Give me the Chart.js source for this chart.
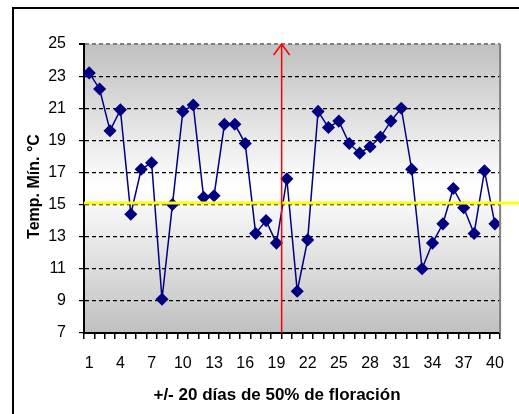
<!DOCTYPE html>
<html>
<head>
<meta charset="utf-8">
<script src="https://cdn.jsdelivr.net/npm/chart.js@4"></script>
<style>
	html, body { margin: 0; padding: 0; background: #ffffff; }
	#wrap { width: 519px; height: 414px; }
</style>
</head>
<body>
<div id="wrap"><canvas id="tempChart" width="519" height="414"></canvas></div>
<script>
// +/- 20 dias alrededor del 50% de floracion
const dias = [];
for (let i = 1; i <= 40; i++) dias.push(String(i));

const tempMin = [
	23.2, 22.2, 19.6, 20.9, 14.4, 17.2, 17.6, 9.1, 15.0, 20.8,
	21.2, 15.45, 15.55, 20.0, 20.0, 18.8, 13.2, 14.0, 12.6, 16.6,
	9.6, 12.8, 20.8, 19.8, 20.2, 18.8, 18.2, 18.6, 19.2, 20.2,
	21.0, 17.2, 11.0, 12.6, 13.8, 16.0, 14.8, 13.2, 17.1, 13.8
];

const yTicks = [7, 9, 11, 13, 15, 17, 19, 21, 23, 25];
const umbral = 15.1;        // linea amarilla
const diaFloracion = 19.5;  // flecha roja (entre dia 19 y 20)

const tituloX = "+/- 20 días de 50% de floración";
const tituloY = "Temp. Mín. °C";

const fontFam = "'Liberation Sans', Arial, sans-serif";

// fondo degradado + marco exterior
const fondoPlugin = {
	id: 'fondo',
	beforeDraw(chart) {
		const ctx = chart.ctx;
		const a = chart.chartArea;
		ctx.save();
		ctx.fillStyle = '#ffffff';
		ctx.fillRect(0, 0, chart.width, chart.height);
		const g = ctx.createLinearGradient(0, a.top, 0, a.bottom);
		g.addColorStop(0, '#c0c0c0');
		g.addColorStop(0.5, '#ffffff');
		g.addColorStop(1, '#c0c0c0');
		ctx.fillStyle = g;
		ctx.fillRect(a.left, a.top, a.right - a.left, a.bottom - a.top);
		// marco del grafico
		ctx.strokeStyle = '#000000';
		ctx.lineWidth = 2;
		ctx.strokeRect(13, 8, 700, 700);
		ctx.restore();
	}
};

// borde derecho, linea amarilla, flecha roja, titulos
const extrasPlugin = {
	id: 'extras',
	afterDatasetsDraw(chart) {
		const ctx = chart.ctx;
		const a = chart.chartArea;
		const x = chart.scales.x;
		const y = chart.scales.y;
		ctx.save();

		ctx.strokeStyle = '#808080';
		ctx.lineWidth = 2;
		ctx.beginPath();
		ctx.moveTo(a.right, a.top);
		ctx.lineTo(a.right, a.bottom);
		ctx.stroke();

		const yu = y.getPixelForValue(umbral);
		ctx.strokeStyle = '#ffff00';
		ctx.lineWidth = 3;
		ctx.beginPath();
		ctx.moveTo(a.left, yu);
		ctx.lineTo(chart.width, yu);
		ctx.stroke();

		const step = x.getPixelForValue(1) - x.getPixelForValue(0);
		const xr = x.getPixelForValue(Math.floor(diaFloracion) - 1) + step * (diaFloracion - Math.floor(diaFloracion));
		ctx.strokeStyle = '#ff0000';
		ctx.lineWidth = 1.5;
		ctx.beginPath();
		ctx.moveTo(xr, a.bottom);
		ctx.lineTo(xr, a.top);
		ctx.moveTo(xr - 8, a.top + 11);
		ctx.lineTo(xr, a.top);
		ctx.lineTo(xr + 8, a.top + 11);
		ctx.stroke();

		ctx.fillStyle = '#000000';
		ctx.textAlign = 'center';
		ctx.textBaseline = 'middle';
		ctx.font = 'bold 17px ' + fontFam;
		ctx.fillText(tituloX, 277, 395);
		ctx.font = 'bold 16px ' + fontFam;
		ctx.translate(35, (a.top + a.bottom) / 2 - 2);
		ctx.rotate(-Math.PI / 2);
		ctx.fillText(tituloY, 0, 0);
		ctx.restore();
	}
};

const ctx = document.getElementById('tempChart').getContext('2d');
new Chart(ctx, {
	type: 'line',
	data: {
		labels: dias,
		datasets: [{
			label: 'Temp. Mín.',
			data: tempMin,
			borderColor: '#000080',
			backgroundColor: '#000080',
			borderWidth: 1.5,
			pointStyle: 'rectRot',
			pointRadius: 5.5,
			pointHoverRadius: 5.5,
			tension: 0
		}]
	},
	options: {
		responsive: false,
		animation: false,
		events: [],
		layout: { padding: { left: 0, top: 44, right: 16, bottom: 0 } },
		plugins: {
			legend: { display: false },
			tooltip: { enabled: false }
		},
		scales: {
			x: {
				offset: true,
				afterFit(scale) { scale.height = 81; },
				grid: {
					offset: true,
					drawOnChartArea: false,
					color: '#000000',
					tickLength: 6,
					lineWidth: 1.5
				},
				border: { display: true, color: '#000000', width: 2 },
				ticks: {
					autoSkip: false,
					maxRotation: 0,
					color: '#000000',
					padding: 15,
					font: { family: fontFam, size: 16 },
					callback(val, i) { return i % 3 === 0 ? this.getLabelForValue(val) : ''; }
				}
			},
			y: {
				min: 7,
				max: 25,
				afterFit(scale) { scale.width = 84; },
				afterBuildTicks(scale) { scale.ticks = yTicks.map(v => ({ value: v })); },
				grid: {
					color(c) {
						if (c.tick.value === 25) return '#808080';
						if (c.tick.value === 7) return 'rgba(0,0,0,0)';
						return '#000000';
					},
					lineWidth(c) { return c.tick.value === 25 ? 2 : 1.2; },
					tickColor: '#000000',
					tickLength: 5,
					tickBorderDash: []
				},
				border: { display: true, color: '#000000', width: 2, dash: [4, 3] },
				ticks: {
					color: '#000000',
					padding: 13,
					font: { family: fontFam, size: 16 }
				}
			}
		}
	},
	plugins: [fondoPlugin, extrasPlugin]
});
</script>
</body>
</html>
